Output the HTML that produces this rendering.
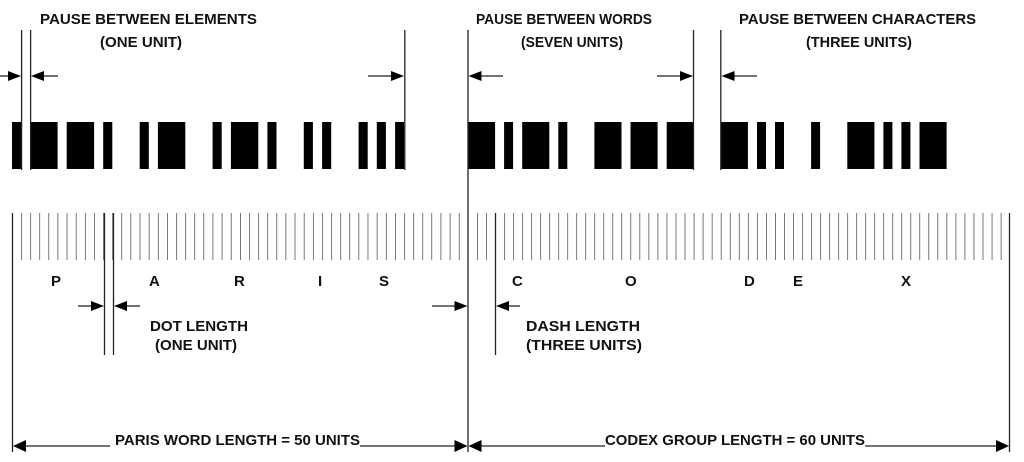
<!DOCTYPE html>
<html><head><meta charset="utf-8"><style>
html,body{margin:0;padding:0;background:#fff;}
svg{display:block}
text{font-family:"Liberation Sans",sans-serif;font-size:15px;font-weight:bold;fill:#111}
</style></head><body>
<svg width="1024" height="462" viewBox="0 0 1024 462" xmlns="http://www.w3.org/2000/svg">
<defs>
<pattern id="p1" x="12" y="0" width="9.12" height="462" patternUnits="userSpaceOnUse"><rect x="-0.6" y="0" width="1.2" height="462" fill="#222"/></pattern>
<pattern id="p2" x="468" y="0" width="9.03" height="462" patternUnits="userSpaceOnUse"><rect x="-0.6" y="0" width="1.2" height="462" fill="#222"/></pattern>
</defs>
<g fill="#000">
<rect x="12" y="122" width="9.1" height="47"/>
<rect x="30.2" y="122" width="27.4" height="47"/>
<rect x="66.7" y="122" width="27.4" height="47"/>
<rect x="103.2" y="122" width="9.1" height="47"/>
<rect x="139.7" y="122" width="9.1" height="47"/>
<rect x="157.9" y="122" width="27.4" height="47"/>
<rect x="212.6" y="122" width="9.1" height="47"/>
<rect x="230.9" y="122" width="27.4" height="47"/>
<rect x="267.4" y="122" width="9.1" height="47"/>
<rect x="303.8" y="122" width="9.1" height="47"/>
<rect x="322.1" y="122" width="9.1" height="47"/>
<rect x="358.6" y="122" width="9.1" height="47"/>
<rect x="376.8" y="122" width="9.1" height="47"/>
<rect x="395.1" y="122" width="9.1" height="47"/>
<rect x="468" y="122" width="27.1" height="47"/>
<rect x="504.1" y="122" width="9" height="47"/>
<rect x="522.2" y="122" width="27.1" height="47"/>
<rect x="558.3" y="122" width="9" height="47"/>
<rect x="594.4" y="122" width="27.1" height="47"/>
<rect x="630.5" y="122" width="27.1" height="47"/>
<rect x="666.7" y="122" width="27.1" height="47"/>
<rect x="720.8" y="122" width="27.1" height="47"/>
<rect x="757" y="122" width="9" height="47"/>
<rect x="775" y="122" width="9" height="47"/>
<rect x="811.1" y="122" width="9" height="47"/>
<rect x="847.3" y="122" width="27.1" height="47"/>
<rect x="883.4" y="122" width="9" height="47"/>
<rect x="901.4" y="122" width="9" height="47"/>
<rect x="919.5" y="122" width="27.1" height="47"/>
</g>
<rect x="17" y="213" width="449" height="47" fill="url(#p1)"/>
<rect x="472" y="213" width="536" height="47" fill="url(#p2)"/>
<g stroke="#222" stroke-width="1.3" fill="none">
<line x1="21.6" y1="30" x2="21.6" y2="170"/>
<line x1="30.6" y1="30" x2="30.6" y2="170"/>
<line x1="404.8" y1="30" x2="404.8" y2="170"/>
<line x1="468" y1="30" x2="468" y2="452"/>
<line x1="693.5" y1="30" x2="693.5" y2="170"/>
<line x1="720.8" y1="30" x2="720.8" y2="170"/>
<line x1="12.5" y1="213" x2="12.5" y2="452"/>
<line x1="104.5" y1="213" x2="104.5" y2="355"/>
<line x1="113.5" y1="213" x2="113.5" y2="355"/>
<line x1="495.5" y1="213" x2="495.5" y2="355"/>
<line x1="1009.5" y1="213" x2="1009.5" y2="452"/>
<line x1="0" y1="76" x2="10" y2="76"/>
<line x1="42" y1="76" x2="58" y2="76"/>
<line x1="368" y1="76" x2="392" y2="76"/>
<line x1="480" y1="76" x2="503" y2="76"/>
<line x1="657" y1="76" x2="681" y2="76"/>
<line x1="733" y1="76" x2="757" y2="76"/>
<line x1="78" y1="306" x2="92" y2="306"/>
<line x1="126" y1="306" x2="140" y2="306"/>
<line x1="432" y1="306" x2="456" y2="306"/>
<line x1="508" y1="306" x2="520" y2="306"/>
<line x1="24" y1="446" x2="110" y2="446"/>
<line x1="360" y1="446" x2="456" y2="446"/>
<line x1="480" y1="446" x2="605" y2="446"/>
<line x1="865" y1="446" x2="998" y2="446"/>
</g>
<g fill="#000">
<polygon points="21,76 8,71 8,81"/>
<polygon points="31,76 44,71 44,81"/>
<polygon points="404,76 391,71 391,81"/>
<polygon points="468.5,76 481.5,71 481.5,81"/>
<polygon points="693,76 680,71 680,81"/>
<polygon points="721.5,76 734.5,71 734.5,81"/>
<polygon points="104,306 91,301 91,311"/>
<polygon points="114,306 127,301 127,311"/>
<polygon points="467.5,306 454.5,301 454.5,311"/>
<polygon points="496,306 509,301 509,311"/>
<polygon points="13,446 26,440 26,452"/>
<polygon points="467.5,446 454.5,440 454.5,452"/>
<polygon points="468.5,446 481.5,440 481.5,452"/>
<polygon points="1009,446 996,440 996,452"/>
</g>
<g lengthAdjust="spacingAndGlyphs">
<text x="40" y="24" textLength="217" lengthAdjust="spacingAndGlyphs">PAUSE BETWEEN ELEMENTS</text>
<text x="100" y="47" textLength="82" lengthAdjust="spacingAndGlyphs">(ONE UNIT)</text>
<text x="476" y="24" textLength="176" lengthAdjust="spacingAndGlyphs">PAUSE BETWEEN WORDS</text>
<text x="521" y="47" textLength="102" lengthAdjust="spacingAndGlyphs">(SEVEN UNITS)</text>
<text x="739" y="24" textLength="237" lengthAdjust="spacingAndGlyphs">PAUSE BETWEEN CHARACTERS</text>
<text x="806" y="47" textLength="106" lengthAdjust="spacingAndGlyphs">(THREE UNITS)</text>
<text x="51" y="286">P</text>
<text x="149" y="286">A</text>
<text x="234" y="286">R</text>
<text x="318" y="286">I</text>
<text x="379" y="286">S</text>
<text x="512" y="286">C</text>
<text x="625" y="286">O</text>
<text x="744" y="286">D</text>
<text x="793" y="286">E</text>
<text x="901" y="286">X</text>
<text x="150" y="331" textLength="98" lengthAdjust="spacingAndGlyphs">DOT LENGTH</text>
<text x="155" y="350" textLength="82" lengthAdjust="spacingAndGlyphs">(ONE UNIT)</text>
<text x="526" y="331" textLength="114" lengthAdjust="spacingAndGlyphs">DASH LENGTH</text>
<text x="526" y="350" textLength="116" lengthAdjust="spacingAndGlyphs">(THREE UNITS)</text>
<text x="115" y="445" textLength="245" lengthAdjust="spacingAndGlyphs">PARIS WORD LENGTH = 50 UNITS</text>
<text x="605" y="445" textLength="260" lengthAdjust="spacingAndGlyphs">CODEX GROUP LENGTH = 60 UNITS</text>
</g>
</svg>
</body></html>
